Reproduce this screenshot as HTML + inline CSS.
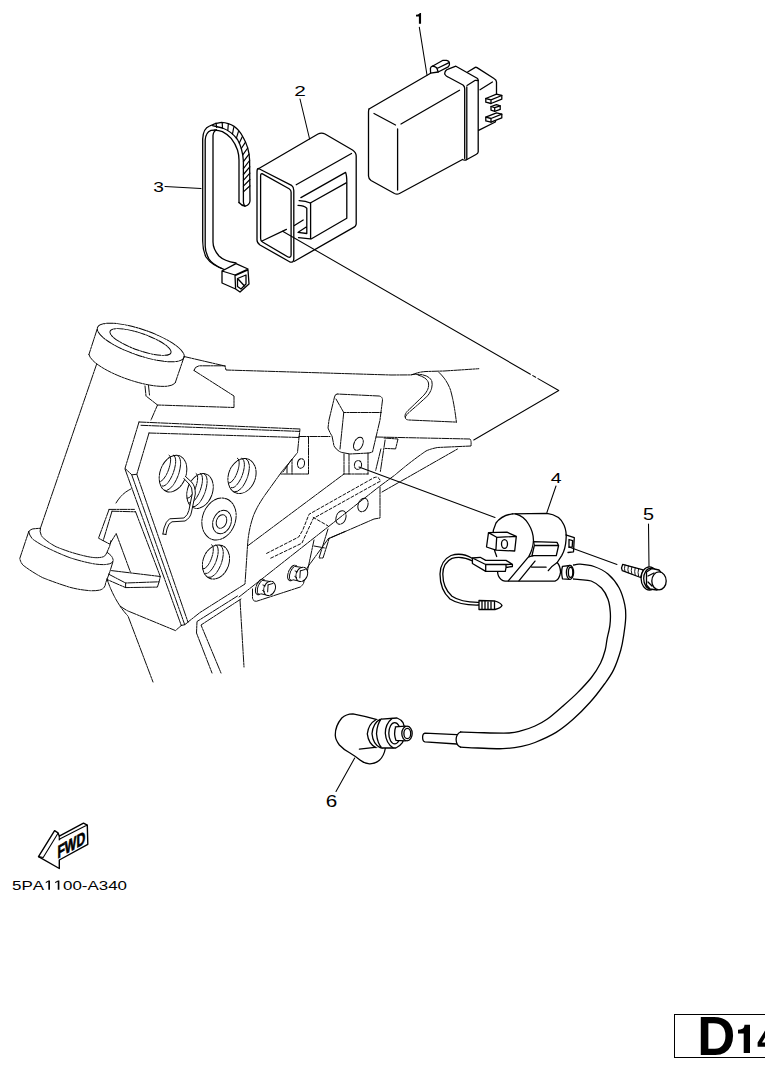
<!DOCTYPE html>
<html><head><meta charset="utf-8"><style>
html,body{margin:0;padding:0;background:#fff;}
body{width:765px;height:1071px;overflow:hidden;position:relative;}
svg{position:absolute;left:0;top:0;}
.pt path,.pt ellipse{fill:none;}
.pt .w{fill:#fff;stroke:none;}
.pt .wf{fill:#fff;}
.fr path,.fr ellipse{fill:none;}
.lbl text{font-family:"Liberation Sans",sans-serif;fill:#000;font-kerning:none;}
#code{position:absolute;left:12px;top:877px;font-family:"Liberation Sans",sans-serif;font-size:12.6px;color:#000;white-space:nowrap;}
#pg{position:absolute;left:673.6px;top:1014.1px;width:100px;height:43.9px;border:1.6px solid #000;box-sizing:border-box;}
</style></head><body>
<svg width="765" height="1071" viewBox="0 0 765 1071">
<g class="fr" stroke="#000" stroke-width="0.95" stroke-dasharray="7 1 2 1" stroke-linejoin="round" stroke-linecap="round">
<ellipse cx="140.75" cy="342.5" rx="45.8" ry="13" transform="rotate(19 140.75 342.5)"/>
<ellipse cx="140.5" cy="342" rx="32.3" ry="8.5" transform="rotate(19.4 140.5 342)"/>
<path d="M97.2,329 L88.9,354.6 M184.3,356.2 L175.3,382.6 M88.9,354.6 A45.8,13 19 0 0 175.3,382.6"/>
<path d="M96.5,364.5 L40.4,528.2"/>
<path d="M145,386 L146,396 L157.5,405 L151,420 M148.5,385.5 L149.5,395"/>
<path d="M184,356.5 L225,366 L226,370 L391,375 L411.7,374.9 Q418,372 426,371.5 L444,371 Q460,370 478.8,368.7"/>
<path d="M194,370.5 Q194.5,366.2 199.5,365.8 L225.2,365.8"/>
<path d="M194,370.5 L234,396 L234,407.5 L157.5,405"/>
<path d="M411.7,374.5 Q428,373 431.8,381 Q433.5,388 427.9,395.5 Q420,403 410,411.5 Q404,416.5 405.5,418.5 Q406.5,420 409,420 L456.4,422.1"/>
<path d="M418,375 Q427,377.5 428.5,383 Q429.5,389 424,395 Q416,403 408,410.5 Q404.5,414 405,417"/>
<path d="M439,372.4 Q447,380 450.5,390 Q454,402 456.4,422.1"/>
<path d="M337,394 Q335,394 334.5,397 L329,420 L328,428 Q330,433 332,436 L334,446 Q337,451 342,452.5 L350,454 L369,453 L372.5,452 L380,420 L382.5,400 Q382.5,396.5 379,396 Z"/>
<path d="M336,399 L343.75,412.5 L381.25,412.5 M343.75,412.5 L340,449"/>
<ellipse cx="358.4" cy="443.8" rx="4.3" ry="6.9" transform="rotate(25 358.4 443.8)"/>
<path d="M344,454 L344,474 M349,454 L349,474 M368,453 L368,474 M344,474 L368,474"/>
<ellipse cx="358" cy="465" rx="3.6" ry="4.4" transform="rotate(10 358 465)"/>
<path d="M139,422 L300,429 L299,437.5 L297.5,452.5 Q290,462 283,470 L265,495 Q256,508 253,517 Q248.5,530 247.5,546 L245,584 L200,612.5 L188,622"/>
<path d="M149,433 L299,437.5 M141,425.3 L299.6,431.4"/>
<path d="M139,422 L125,468.4 L131.8,474.8 L136.8,474.3 L149,433"/>
<path d="M125,469 L181.3,625.5 M131.8,475 L184.7,624.7 M136.8,474.3 L188,622.2 M181.3,625.5 L184.7,624.7 L188,622.2"/>
<path d="M120,606 Q124,609 128,611 L175.5,630.6 L181.3,625.5"/>
<path d="M299,436.5 L330,436.5 M308.5,437 L308.5,474 L281,474 M283,472 L292,459 L292,474 M287,466 L287,474"/>
<ellipse cx="301" cy="463.5" rx="3.5" ry="4.8" transform="rotate(10 301 463.5)"/>
<path d="M376,437 L470,439 Q471.5,440 471,446 L437.5,447.5 Q430,449 426,451 Q410,462 395,475 L380,486 L239,597"/>
<path d="M384,438 L398,439 L395.6,448.9 L385.1,448.4 M380.9,448.9 L375.7,470.3 M385.1,440 L380.4,471.4"/>
<path d="M382,492 L457.5,449"/>
<path d="M380,487 L380,518 L374,519 L328,539"/>
<path d="M247.5,546 L344,474"/>
<path stroke-dasharray="3 2" d="M266.6,553.4 L298.7,537 L302.8,530 L309,514.3 L373.9,477.7 Q379,475.5 380.4,481.5 L379.1,481.8 L313.2,518.5 L307,532 L301.9,543.2 L269,559 M313.2,517.4 L327.9,525.8"/>
<ellipse cx="363" cy="505" rx="4.8" ry="7" transform="rotate(20 363 505)"/>
<ellipse cx="341" cy="517.5" rx="4.8" ry="7" transform="rotate(20 341 517.5)"/>
<path d="M328,529 L319,558 L323,558 L329,539 M314,540 L307,573 M314,546 L325,548"/>
<path d="M252.5,589 L252.5,598 Q253,601.5 256.4,601.3 L300.3,587 L303.4,584 L307,568 L328.5,538.5 L345,531.5"/>
<ellipse cx="260.40000000000003" cy="587.0" rx="4.2" ry="8.2" transform="rotate(22 260.40000000000003 587.0)" style="fill:#fff"/>
<ellipse cx="261.40000000000003" cy="587.2" rx="3.4" ry="7.4" transform="rotate(22 261.40000000000003 587.2)"/>
<path style="fill:#fff;stroke:none" d="M261.90000000000003,579.6 L268.40000000000003,581.1999999999999 L268.1,595.4 L259.90000000000003,594.2 Z"/>
<path d="M262.40000000000003,580.4 L268.40000000000003,581.1999999999999 M260.90000000000003,593.8 L268.1,595.4"/>
<ellipse cx="269.6" cy="588.4" rx="5.6" ry="7.4" transform="rotate(22 269.6 588.4)" style="fill:#fff"/>
<path d="M268.1,584.9 L273.1,583.4 M268.1,584.9 L267.6,592.4 M262.90000000000003,585.0 L265.40000000000003,585.8 M262.6,590.5 L264.40000000000003,591.6"/>
<ellipse cx="292.6" cy="573.0" rx="4.2" ry="8.2" transform="rotate(22 292.6 573.0)" style="fill:#fff"/>
<ellipse cx="293.6" cy="573.2" rx="3.4" ry="7.4" transform="rotate(22 293.6 573.2)"/>
<path style="fill:#fff;stroke:none" d="M294.1,565.6 L300.6,567.1999999999999 L300.3,581.4 L292.1,580.2 Z"/>
<path d="M294.6,566.4 L300.6,567.1999999999999 M293.1,579.8 L300.3,581.4"/>
<ellipse cx="301.8" cy="574.4" rx="5.6" ry="7.4" transform="rotate(22 301.8 574.4)" style="fill:#fff"/>
<path d="M300.3,570.9 L305.3,569.4 M300.3,570.9 L299.8,578.4 M295.1,571.0 L297.6,571.8 M294.8,576.5 L296.6,577.6"/>
<path d="M237.5,596 L197,621.5 L196.5,633 L212,673 M241,599 L201,625 L221,673"/>
<path d="M240,600 L244,667"/>
<path d="M107,579 Q112,594 120,606 Q124,612 128,616 L153,682"/>
<path d="M111.5,570.6 L160.3,576.5 L159.1,581.8 L157.4,587.1 L125.6,587.6 L106.8,579.4 M108.5,574.1 L125.6,583 L159.1,581.8 M125.6,583 L125.6,587.6"/>
<path d="M109.1,509.4 L134.4,509.4 M112,511.2 L135.6,511.8 M109.1,509.4 L98.5,538.2 L109.7,544.1 L116.2,533.5 L130.3,571.8 M112,511.2 L103.2,540.6 M135.6,511.8 L160.3,576.5"/>
<path d="M116,503 Q122,493 131,489"/>
<path d="M28.7,531.7 Q30,529.3 32.8,528.9 L40.4,528.2"/>
<path d="M40.4,528.2 Q39,532.5 42.5,537.2 Q48,542.5 56.2,546.8 Q70,552.5 83.6,555.7 Q92,557.8 97.3,557.7 Q102,557.5 104.2,556.4 Q106,554.8 107,552.3 L109.7,546 L111,540.6"/>
<path d="M28.7,531.7 Q29.5,536 32.8,539.2 Q40,544.5 49.3,548.8 Q60,554 69.9,557.7 Q80,561 90.5,563.2 Q98,564.8 104.2,564.6 Q109,564.3 111.1,563.2 Q113.5,561.5 113.1,559.8 Q112.5,557.2 111.1,555.7 Q109,553.5 107,552.3"/>
<path d="M28.7,531.7 L19.8,558.4 Q20.5,562.5 23.2,565.3 Q32,572 42.5,577.6 Q56,583 69.9,587.3 Q80,590 90.5,590.7 Q96,591 100.1,590 Q103,589 104.2,587.3 Q105.5,585.5 105.6,583.1 L109.7,572.2 L113.1,561.2"/>
<ellipse cx="173" cy="473.6" rx="13" ry="19" transform="rotate(20 173 473.6)"/><path d="M169.08,455.14 A4.50,14.00 20 0 1 159.50,481.46 M173.35,455.10 A6.00,16.50 20 0 1 162.06,486.11 M177.45,455.53 A7.50,18.50 20 0 1 164.79,490.30 "/>
<ellipse cx="200" cy="491" rx="12.5" ry="18" transform="rotate(20 200 491)"/><path d="M196.15,473.47 A4.33,13.26 20 0 1 187.08,498.39 M200.25,473.45 A5.77,15.63 20 0 1 189.56,502.83 M204.19,473.87 A7.21,17.53 20 0 1 192.20,506.81 "/>
<ellipse cx="242" cy="476" rx="13.5" ry="18" transform="rotate(20 242 476)"/><path d="M237.43,458.20 A4.67,13.26 20 0 1 228.35,483.13 M241.82,458.29 A6.23,15.63 20 0 1 231.12,487.67 M246.04,458.82 A7.79,17.53 20 0 1 234.05,491.76 "/>
<ellipse cx="219" cy="519" rx="16.5" ry="21.5" transform="rotate(20 219 519)"/>
<ellipse cx="222" cy="522" rx="9" ry="12" transform="rotate(20 222 522)"/>
<ellipse cx="221.5" cy="521.5" rx="5" ry="7" transform="rotate(20 221.5 521.5)"/>
<ellipse cx="216" cy="562" rx="13" ry="17.5" transform="rotate(20 216 562)"/><path d="M211.64,544.73 A4.50,12.89 20 0 1 202.82,568.97 M215.87,544.80 A6.00,15.20 20 0 1 205.48,573.36 M219.95,545.30 A7.50,17.04 20 0 1 208.29,577.33 "/>
<path stroke-dasharray="none" d="M164.4,534.5 L165.5,528.5 Q167.5,521.5 171,520.3 L184.5,519.5 Q189.5,516.5 190.3,511 L193.8,494 Q194,486.5 190.5,483 L184.7,477.5" stroke="#fff" stroke-width="2.6" stroke-linecap="butt"/>
<path stroke-dasharray="none" d="M162.9,534 L164,528 Q166,521 169.6,518.8 L183.9,518 Q188,515 188.9,510.4 L192.3,493.6 Q192.5,487 189,484 L183.9,478.5"/>
<path stroke-dasharray="none" d="M165.9,534.5 L167,529 Q168.5,523 172,521.8 L185,521 Q190.5,518 191.5,512 L195.3,494 Q195.5,486 191.5,482 L185.5,476.5 M162.9,534 L165.9,534.5"/>
</g>
<g class="pt" stroke="#000" stroke-width="1.3" stroke-linejoin="round" stroke-linecap="round">

<path stroke-width="1.05" d="M359,467 L495,517.5"/>


<path class="w" d="M369,109 L430.6,73.2 L430.4,68.5 L443,60.3 L446.5,60.3 L449.4,63.2 L449.4,66 L455.9,66.2 L467.6,72 L475.3,67.4 L496.5,80.5 L497,94 L501.5,97 L501.5,121 L478.5,131 L478.2,152 L466,160 L462.5,159.5 L399.5,193.5 L394.5,193.5 L371,180.5 L368.2,176 L368.2,112 Z"/>
<path stroke-width="1.05" d="M419.3,27.2 L427,75"/>
<path d="M369,109 Q368.5,110 368.5,112.5 L368.5,176 Q368.6,178.8 371,180.5 L394.5,193.5 Q397,194.8 399.5,193.5 L462.5,159.5"/>
<path d="M369,109 L430.6,73.2"/>
<path d="M374,113.5 L395.5,125"/>
<path d="M401,124 L459.5,90.3"/>
<path d="M397.6,129 L397.6,190"/>
<path d="M430.6,73.2 L430.4,68.5 Q430.8,66.6 432.4,66.2 L443,60.3 L446.5,60.3 Q449.4,61 449.4,63.2 L449.4,65 L448.2,66.8 L438.2,72 L430.6,73.2"/>
<path d="M432.4,66.2 Q436.3,66.6 437,68.5 L438.2,72 M437,68.5 L448.6,62.8"/>
<path d="M444.7,73.8 Q445,70 448.2,69.1 L455.9,66.2 L477.6,78.5 Q478.2,79.5 478.2,81 L478.2,152 Q478,153.5 476,154.5 L466,160 Q464,160.5 462.5,159.5"/>
<path d="M445,74.5 Q446,76.2 447.6,76.8 L463,85 Q464.7,86.5 464.7,88.5 L464.7,158.5"/>
<path d="M466.8,87 L466.8,159.5 M467,85.5 L475.3,80.3 L478.2,80.5"/>
<path d="M467.6,72 L475.3,67.4 Q476,67 477,67.6 L494,78.5 Q496.5,80 496.5,82 L496.5,95"/>
<path d="M480,89.7 L492.4,82"/>
<path d="M478.6,130.3 L495.3,122 L495.8,119.5"/>
<path class="wf" d="M485.8,98.5 L496.5,94.2 L501.8,95.5 L501.8,99.2 L491.0,103.5 L485.8,102.2 Z"/>
<path d="M485.8,98.5 L491.0,99.8 L501.8,95.5 M491.0,99.8 L491.0,103.5"/>
<path class="wf" d="M491.0,106.5 L496.5,104.6 L500.2,105.8 L500.2,109.4 L494.7,111.3 L491.0,110.1 Z"/>
<path d="M491.0,106.5 L494.7,107.7 L500.2,105.8 M494.7,107.7 L494.7,111.3"/>
<path class="wf" d="M485.8,117.2 L496.5,112.9 L501.8,114.2 L501.8,117.9 L491.0,122.2 L485.8,120.9 Z"/>
<path d="M485.8,117.2 L491.0,118.5 L501.8,114.2 M491.0,118.5 L491.0,122.2"/>

<path class="w" d="M258,169 L318,134 Q321.5,132.3 325,134 L352.5,150 Q356.2,152.5 356.2,156 L356.2,224 Q356,226.5 353.2,227.6 L293,262 L260,245 Q257,243 257,240 L257,172 Z"/>
<path d="M258,169 L318,134 Q321.5,132.3 325,134 L352.5,150 Q356.2,152.5 356.2,156 L356.2,224 Q356,226.5 353.2,227.6 L294,261.5"/>
<path d="M258.5,168.5 L291.5,185.3 Q293.8,187 293.8,190.6 L293.8,259 Q293.5,263 290,262 L260,245 Q257,243 257,240 L257,172 Q257,168.5 258.5,168.5 Z"/>
<path d="M262,173.6 L289.1,188.8 Q291.1,190 291.1,192 L291.1,255 Q291,258 288,257 L262.5,242 Q260.6,241 260.6,238.5 L260.6,176 Q260.6,173.5 262,173.6 Z"/>
<path d="M296.2,184.7 L351.5,153.5"/>
<path d="M300.9,197.6 L345.6,172.4 Q346.8,175 346.8,181.8 L346.8,218.2 L311.5,238.8"/>
<path d="M310.3,203 L346.2,182.9"/>
<path d="M310.6,203.5 L310.6,238.8"/>
<path d="M299.1,200.6 Q306,201 310.3,203"/>
<path d="M298,205.3 Q304,205.5 306.8,208.2 L306.8,233.5 L298,232.4 M298.2,232.2 L306.2,227"/>
<path d="M298.5,237.6 L310.3,238.8"/>
<path d="M262,241 L286.4,229.4 M294.4,225.5 L303.2,220"/>
<path stroke-width="1.05" d="M300,99 L309.6,139"/>

<path d="M226,270 Q212,266 206,257 Q202.7,250 202.7,241 L202.7,139 Q203,128.5 209.6,126 Q215,123 221.4,122.3 Q236,123 243,137 Q249.3,148 249.6,160 L250,201 Q249.5,205 245,206.2 Q241.5,205.5 239,202.5"/>
<path d="M222,268.5 Q212,264 209,259 Q205.2,252 205.2,246 L205.2,140 Q205.5,132.5 211,130.3 L216.5,130"/>
<path d="M236,263 Q224,261 219,256 Q213,249 213,242 L213,135.5 Q213.5,131 216.5,130"/>
<path d="M212.5,125.7 Q218,127 222.4,128 Q231,131 237.5,139.5 Q242.5,148 243.4,161 L243.4,202 Q243.6,205 245,206.2"/>
<path d="M214.5,130.1 Q219,130.5 222.4,131.6 Q228,134.5 231.2,138.4 Q235.5,144 237.5,150 Q239,155 239,160 L239,202.5"/>
<path stroke-width="1.2" d="M216.0,123.2 L216.7,127.4 M222.2,122.5 L222.5,128.1 M228.3,124.2 L227.8,130.4 M233.7,127.5 L232.5,133.8 M238.4,131.6 L236.4,138.1 M242.4,136.6 L239.3,143.1 M245.5,142.1 L241.3,148.5 M247.7,148.0 L242.8,154.8 M249.0,154.2 L243.4,161.7 M249.6,160.5 L243.4,168.7 M249.8,166.8 L243.4,174.5 M249.9,173.2 L243.4,180.3 M249.9,179.5 L243.4,186.1 M250.0,185.8 L243.4,191.9"/>
<path class="w" d="M222,271 L236,263.6 L248,269 L249,284 L240,292 L235.6,289 L222,283 Z"/>
<path d="M222,271 L236,263.6 L248,269 L235,275 Z M222,271 L222,283 L235.6,289 L235,275 M235,275.6 L248,270 L249,284 L240,292 L235.6,289"/>
<path d="M237.5,278.5 L246,275 L246,284 L241,289 L237.5,286.5 Z M238.5,279.5 L244.5,286"/>
<path stroke-width="1.05" d="M165,186.4 L201,188.6"/>


<path class="w" d="M512.4,513.8 L546.9,513.3 Q560,515 564,525 Q567,532 566,540 Q565,550 561,556.5 L562,570 L556,582 L506,582 L498,572 L496.7,556.5 Q493,548 492.7,537.6 Q492.5,530 496,523 Q501.4,515.5 512.4,513.8 Z"/>
<path d="M512.4,513.8 L546.9,513.3 Q560,515 564,525 Q567,532 566,540 Q565.5,549 561.7,555.6 L557.2,562.5"/>
<path d="M512.4,513.8 Q501.4,515.5 496,523 Q492.5,530 492.7,537.6 Q493,548 496.7,556.5"/>
<path d="M515.5,513.8 Q524,516 528.5,524 Q533.5,532 533.5,540.8 Q533,549 528.8,556.5"/>
<path class="w" d="M488.5,532.6 L506.9,532.2 L516.3,536.4 L514.7,551 L495.9,550.2 L486.5,547 Z"/>
<path d="M488.5,532.6 L506.9,532.2 L516.3,536.4 L496.7,537.3 Z M496.7,537.3 L495.9,550.2 L514.7,551 L516.3,536.4 M488.5,532.6 L486.5,547 L495.9,550.2"/>
<ellipse cx="504.5" cy="544" rx="3" ry="4.3"/>
<path class="w" d="M533.5,541.6 L557,542.4 L558.6,545.5 L556.3,555.7 L532,555.7 Z"/>
<path d="M533.5,541.6 L557,542.4 L558.6,545.5 L534.3,545.5 Z M534.3,545.5 L532,555.7 L556.3,555.7 L558.6,545.5"/>
<path class="w" d="M567.3,535.3 L574.3,537.6 L573.5,551.8 L568,552.5 Z"/>
<path d="M566,535 L567.3,535.3 L574.3,537.6 L573.5,551.8 L568,552.5 M569,539.5 L572.6,540.6 L572.2,547 L569,547.4 Z"/>
<path d="M497.8,570.5 Q497.3,573.5 498.5,576 Q500.5,580.5 505,581.1 L555,581.1 Q559.4,579.8 560.6,572.2 Q560.3,566 557.2,562.5 M548.3,570.6 Q551,566.5 557.2,562.5"/>
<path d="M508.3,580.8 L528.3,557.2 Q530,556 533,555.8 M518.9,580.8 L535,561.1 M531.7,567.2 L546.1,567.2"/>
<path class="w" d="M472.4,558 L480.2,557.3 L485.7,560.4 L506,560.4 L512.4,564.3 L512.4,566.5 L506,567.5 L505.3,571.4 L485.7,571.4 L472.4,563.5 Z"/>
<path d="M472.4,558 L480.2,557.3 L485.7,560.4 L506,560.4 L512.4,564.3 L512.4,566.5 L506,567.5 L505.3,571.4 L485.7,571.4 L472.4,563.5 Z M472.4,558 L485.7,564.5 L485.7,571.4 M485.7,564.5 L506,564.5 L506,567.5 M506,564.5 L512.4,564.3"/>
<path d="M472.5,558.5 Q462,552 451,555.5 Q440.5,560.5 440,574 Q440,590 450,599 Q460,605.5 479,605"/>
<path d="M472.5,561 Q462,555.5 452,558.3 Q443,562.5 442.8,574 Q442.8,588 452,596.3 Q461,602.5 479,602.3"/>
<path class="w" d="M479,600.5 L495,601 Q501,603 502,605.5 Q501,608 495,609.5 L479,609.5 Z"/>
<path d="M479,600.5 L495,601 Q501,603 502,605.5 Q501,608 495,609.5 L479,609.5 Z M482,600.6 L482,609.5 M485,600.7 L485,609.5 M488,600.8 L488,609.5 M491,600.9 L491,609.5 M494.5,601 L494.5,609.5"/>
<path stroke-width="1.05" d="M556,486 L546.9,512.5"/>

<path class="w" d="M573.50,565.00 C574.58,564.87 576.58,563.95 580.00,564.20 C583.42,564.45 589.33,564.87 594.00,566.50 C598.67,568.13 603.80,570.42 608.00,574.00 C612.20,577.58 616.40,582.87 619.20,588.00 C622.00,593.13 623.72,599.83 624.80,604.80 C625.88,609.77 625.87,612.83 625.70,617.80 C625.53,622.77 624.62,629.23 623.80,634.60 C622.98,639.97 622.48,644.17 620.80,650.00 C619.12,655.83 616.42,663.93 613.70,669.60 C610.98,675.27 608.43,678.55 604.50,684.00 C600.57,689.45 595.33,696.42 590.10,702.30 C584.87,708.18 578.77,714.28 573.10,719.30 C567.43,724.32 562.45,728.53 556.10,732.40 C549.75,736.27 540.73,740.17 535.00,742.50 C529.27,744.83 527.07,745.37 521.70,746.40 C516.33,747.43 510.13,748.43 502.80,748.70 C495.47,748.97 484.75,748.25 477.70,748.00 C470.65,747.75 463.37,747.33 460.50,747.20 L460.5,732 C463.37,732.10 469.60,732.43 477.70,732.60 C485.80,732.77 501.77,733.32 509.10,733.00 C516.43,732.68 517.38,731.87 521.70,730.70 C526.02,729.53 530.78,727.90 535.00,726.00 C539.22,724.10 542.38,722.60 547.00,719.30 C551.62,716.00 557.68,710.57 562.70,706.20 C567.72,701.83 572.32,697.88 577.10,693.10 C581.88,688.32 587.48,682.52 591.40,677.50 C595.32,672.48 598.30,667.58 600.60,663.00 C602.90,658.42 604.13,653.95 605.20,650.00 C606.27,646.05 606.22,643.42 607.00,639.30 C607.78,635.18 609.35,629.82 609.90,625.30 C610.45,620.78 610.62,616.55 610.30,612.20 C609.98,607.85 609.47,603.23 608.00,599.20 C606.53,595.17 604.30,591.03 601.50,588.00 C598.70,584.97 594.78,582.40 591.20,581.00 C587.62,579.60 582.95,579.93 580.00,579.60 C577.05,579.27 574.58,579.10 573.50,579.00 Z"/>
<path d="M573.50,565.00 C574.58,564.87 576.58,563.95 580.00,564.20 C583.42,564.45 589.33,564.87 594.00,566.50 C598.67,568.13 603.80,570.42 608.00,574.00 C612.20,577.58 616.40,582.87 619.20,588.00 C622.00,593.13 623.72,599.83 624.80,604.80 C625.88,609.77 625.87,612.83 625.70,617.80 C625.53,622.77 624.62,629.23 623.80,634.60 C622.98,639.97 622.48,644.17 620.80,650.00 C619.12,655.83 616.42,663.93 613.70,669.60 C610.98,675.27 608.43,678.55 604.50,684.00 C600.57,689.45 595.33,696.42 590.10,702.30 C584.87,708.18 578.77,714.28 573.10,719.30 C567.43,724.32 562.45,728.53 556.10,732.40 C549.75,736.27 540.73,740.17 535.00,742.50 C529.27,744.83 527.07,745.37 521.70,746.40 C516.33,747.43 510.13,748.43 502.80,748.70 C495.47,748.97 484.75,748.25 477.70,748.00 C470.65,747.75 463.37,747.33 460.50,747.20"/>
<path d="M573.50,579.00 C574.58,579.10 577.05,579.27 580.00,579.60 C582.95,579.93 587.62,579.60 591.20,581.00 C594.78,582.40 598.70,584.97 601.50,588.00 C604.30,591.03 606.53,595.17 608.00,599.20 C609.47,603.23 609.98,607.85 610.30,612.20 C610.62,616.55 610.45,620.78 609.90,625.30 C609.35,629.82 607.78,635.18 607.00,639.30 C606.22,643.42 606.27,646.05 605.20,650.00 C604.13,653.95 602.90,658.42 600.60,663.00 C598.30,667.58 595.32,672.48 591.40,677.50 C587.48,682.52 581.88,688.32 577.10,693.10 C572.32,697.88 567.72,701.83 562.70,706.20 C557.68,710.57 551.62,716.00 547.00,719.30 C542.38,722.60 539.22,724.10 535.00,726.00 C530.78,727.90 526.02,729.53 521.70,730.70 C517.38,731.87 516.43,732.68 509.10,733.00 C501.77,733.32 485.80,732.77 477.70,732.60 C469.60,732.43 463.37,732.10 460.50,732.00"/>
<path d="M460.5,732 Q456.3,734 456.1,739.5 Q456.3,745.5 460.5,747.2"/>
<path class="w" d="M562,566 L570,565.5 L570,579.3 L562,579 Z"/>
<path d="M562.5,566.3 Q560.8,572 562.5,578.8 M562.5,566.3 L570,565.5 M562.5,578.8 L570,579.3"/>
<ellipse class="wf" cx="570" cy="572.4" rx="3.6" ry="6.9"/>
<ellipse cx="570.6" cy="572.4" rx="2.2" ry="5"/>
<path d="M456.6,734.6 L425,733.1 Q422.6,733.6 422.6,737.4 Q422.7,741.3 425,741.8 L456.6,744"/>

<path stroke-width="1.05" d="M648.5,524 L649,567"/>
<path stroke-width="1.05" d="M569,547 L617,564.4"/>
<path class="wf" d="M622.7,564.3 L643.1,569.9 L640.6,577.5 L622.3,570.7 Q620.8,567.5 622.7,564.3 Z"/>
<path stroke-width="0.9" d="M625,565 Q623.8,568.5 625,571.6 M628.4,566 Q627.2,569.5 628.4,572.8 M631.8,566.9 Q630.6,570.5 631.8,574 M635.2,567.8 Q634,571.5 635.2,575.2 M638.6,568.7 Q637.4,572.5 638.6,576.4"/>
<ellipse class="wf" cx="649.5" cy="578.4" rx="8.4" ry="11.6"/>
<ellipse cx="650.5" cy="578.6" rx="6.8" ry="10.3"/>
<path class="wf" d="M646.5,572 L652,568.5 L659,570 L663,575 L662,586 L657,590 L650,589 L646.5,585 Z"/>
<path d="M648,576 L654,573 M648,582 L652,586"/>
<ellipse class="wf" cx="659" cy="580.9" rx="7.2" ry="9"/>

<path class="w" d="M352.9,713.8 Q365,716 377,719.7 L385.3,748.5 Q385,756 379.4,760.3 Q375,764 370,763.8 Q360,763 355.9,757.4 Q348,752 339.4,745 Q335.3,740 335.3,735.6 Q335,726 341.8,718 Q346,714 352.9,713.8 Z"/>
<path d="M377,719.7 Q365,716 352.9,713.8 Q346,714 341.8,718 Q335,726 335.3,735.6 Q335.5,740 339.4,745 Q344,750 350,753 Q355,756 360,760 Q365,764 370,763.8 Q376,763.5 379.4,760.3 Q384,756 385.3,748.5"/>
<path d="M359.4,749.1 L379.4,746.8"/>
<path class="w" d="M376,720 Q371,721 368,733.8 Q371,746.5 376,747.5 L383,748.2 L383,719 Z"/>
<path d="M375.5,720 Q368.5,724 367.3,733.8 Q368.5,744 376,747.6 M380,719.4 Q373,723 372,733.8 Q373,744.5 380.5,747.8 M381.2,719.1 Q377,724 376.5,733.8 Q377.5,744 382,748"/>
<path class="w" d="M381.2,719.1 L397,718 Q401,719.5 403,722.6 Q405.5,728 404.7,733.2 Q404.5,739 402.4,742.6 Q399.5,746.5 395.9,748 L381.8,748 Z"/>
<path d="M381.2,719.1 L397,718 Q401,719.5 403,722.6 Q405.5,728 404.7,733.2 Q404.5,739 402.4,742.6 Q399.5,746.5 395.9,748 L381.8,748"/>
<path d="M392,718.5 Q385.3,724 385.3,733.2 Q386,743 393,747.8"/>
<ellipse cx="394.7" cy="733.2" rx="5.9" ry="10.6"/>
<path class="w" d="M395.3,726.8 L405.3,726.2 L405.3,740.9 L395.9,740.3 Z"/>
<path d="M395.3,726.8 L405.3,726.2 M395.9,740.3 L405.3,740.9 M395.6,727 Q393.5,733.5 395.9,740.2"/>
<ellipse class="wf" cx="407" cy="733.5" rx="5.2" ry="7.3"/>
<ellipse cx="407.3" cy="733.5" rx="3.4" ry="5.2"/>
<path stroke-width="1.05" d="M354.7,758 L336,791.5"/>

<path d="M38.5,856.6 L54.6,830.7 L58,832.8 L59.3,836.2 L83.5,823.1 L87.3,825.2 L87.8,844.3 L59.3,860 L59.3,868.5 Z" stroke-width="1.4"/>
<path d="M43.2,857.5 L58,833.3 M38.5,856.6 L43.2,857.5 M59.3,836.2 L59.2,840 L60.2,838.8 L85.2,826 L87.3,825.2" stroke-width="1.1"/>


<path stroke-width="1.05" d="M282.6,231.2 L530.4,374.2 M532.8,375.6 L535.7,377.3 M538,378.6 L558.75,390.5 L473.75,440"/>

</g>
<g class="lbl"><text transform="translate(294.35,95.90) scale(1.380,1)" font-size="15.11">2</text><text transform="translate(153.37,192.45) scale(1.258,1)" font-size="15.25">3</text><text transform="translate(550.65,482.80) scale(1.250,1)" font-size="15.55">4</text><text transform="translate(643.01,520.19) scale(1.230,1)" font-size="16.12">5</text><text transform="translate(325.75,806.54) scale(1.285,1)" font-size="16.10">6</text><path fill="#000" d="M421.06,12.94 L421.06,23.76 L418.9,23.76 L418.9,16.4 L416,16.4 L416,14.7 Q418.3,14.6 419.2,13.8 Q419.6,13.4 419.7,12.94 Z"/><text transform="translate(12.12,889.57) scale(1.283,1)" font-size="13.2">5PA</text><text transform="translate(62.97,889.57) scale(1.283,1)" font-size="13.2">00-A340</text><path fill="#000" d="M48.31,889.67 L48.31,881.70 L45.76,883.16 L45.76,882.06 L48.51,880.59 L49.97,880.59 L49.97,889.67 Z M57.73,889.67 L57.73,881.70 L55.18,883.16 L55.18,882.06 L57.93,880.59 L59.39,880.59 L59.39,889.67 Z"/></g>
<text x="0" y="0" transform="translate(57.4,858.65) skewY(-29) scale(0.68,1)" font-family="Liberation Sans" font-weight="bold" font-size="18" stroke="#000" stroke-width="0.7" style="font-kerning:none">FWD</text>
</svg>
<div id="pg"></div>
<svg width="765" height="1071" viewBox="0 0 765 1071" style="pointer-events:none">
<text transform="translate(697.28,1055.1) scale(0.949,1)" font-family="Liberation Sans" font-weight="bold" font-size="55.52">D</text>
<path d="M750,1024.7 L750,1053.1 L743.7,1053.1 L743.7,1033.6 L738,1033.6 L738,1029.8 Q742.6,1029.6 743.8,1027.5 Q744.4,1026.2 744.5,1024.7 Z" fill="#000"/>
<path fill-rule="evenodd" d="M757.6,1042.4 L757.6,1046.8 L766,1046.8 L766,1029 Z M762,1042.4 L766,1042.4 L766,1036 Z" fill="#000"/>
</svg>
</body></html>
